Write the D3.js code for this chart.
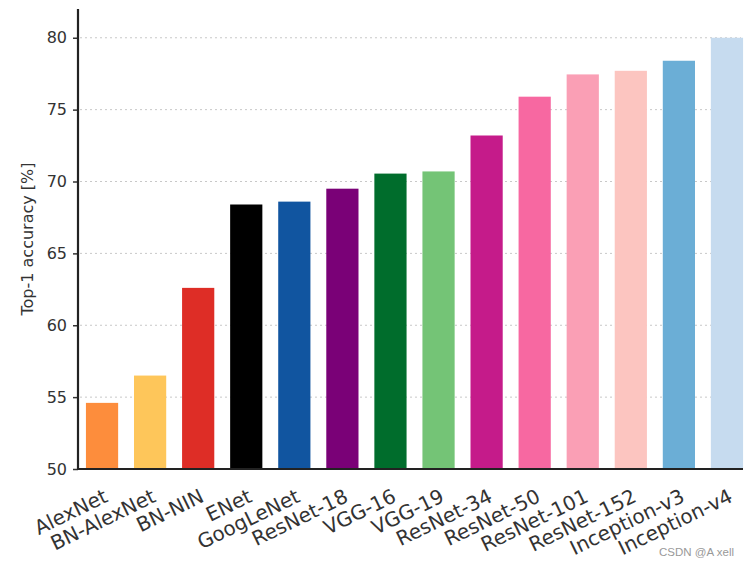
<!DOCTYPE html>
<html>
<head>
<meta charset="utf-8">
<script src="https://cdn.jsdelivr.net/npm/d3@7"></script>
<style>
  body { margin: 0; background: #fff; }
  text { font-family: "DejaVu Sans", sans-serif; }
</style>
</head>
<body>
<svg id="chart" width="748" height="566"></svg>
<script>
'use strict';

// models, in plotted order
const models = ['AlexNet', 'BN-AlexNet', 'BN-NIN', 'ENet', 'GoogLeNet', 'ResNet-18',
  'VGG-16', 'VGG-19', 'ResNet-34', 'ResNet-50', 'ResNet-101', 'ResNet-152',
  'Inception-v3', 'Inception-v4'];

// top-1 accuracy [%]
const accuracy = [54.6, 56.5, 62.6, 68.4, 68.6, 69.5, 70.55, 70.7, 73.2, 75.9, 77.45, 77.7, 78.4, 80.0];

const barColors = ['#fd8d3c', '#fec65a', '#de2d26', '#000000', '#1155a0', '#7a0177',
  '#006d2c', '#74c476', '#c51b8a', '#f768a1', '#fa9fb5', '#fcc5c0', '#6baed6', '#c6dbef'];

const yTicks = [50, 55, 60, 65, 70, 75, 80];

const svg = d3.select('#chart');

const plot = {left: 78, right: 751, top: 9, bottom: 469};

const x = d3.scaleBand()
  .domain(models)
  .range([plot.left, plot.right])
  .paddingInner(0.33)
  .paddingOuter(0.165);

const y = d3.scaleLinear()
  .domain([50, 82])
  .range([plot.bottom, plot.top]);

// dotted grid
svg.append('g')
  .selectAll('line')
  .data(yTicks.filter(t => t > 50))
  .join('line')
  .attr('x1', plot.left + 2)
  .attr('x2', 741)
  .attr('y1', d => y(d))
  .attr('y2', d => y(d))
  .attr('stroke', '#c8c8c8')
  .attr('stroke-width', 1)
  .attr('stroke-dasharray', '2,3');

// bars
svg.append('g')
  .selectAll('rect')
  .data(models)
  .join('rect')
  .attr('x', d => x(d))
  .attr('width', x.bandwidth())
  .attr('y', (d, i) => y(accuracy[i]))
  .attr('height', (d, i) => y(50) - y(accuracy[i]))
  .attr('fill', (d, i) => barColors[i]);

// y axis
const yAxis = svg.append('g')
  .attr('transform', `translate(${plot.left},0)`)
  .call(d3.axisLeft(y).tickValues(yTicks).tickSize(5).tickPadding(6));
yAxis.select('.domain').remove();
yAxis.selectAll('.tick line').attr('stroke', '#333').attr('stroke-width', 1.5);
yAxis.selectAll('.tick text')
  .attr('fill', '#333')
  .style('font-size', '16px');

// spines
svg.append('line')
  .attr('x1', plot.left).attr('x2', plot.left)
  .attr('y1', plot.top).attr('y2', plot.bottom + 1)
  .attr('stroke', '#222').attr('stroke-width', 2.2);
svg.append('line')
  .attr('x1', plot.left - 1).attr('x2', 743)
  .attr('y1', plot.bottom).attr('y2', plot.bottom)
  .attr('stroke', '#222').attr('stroke-width', 2.2);

// x tick labels, rotated
svg.append('g')
  .selectAll('text')
  .data(models)
  .join('text')
  .attr('transform', d => `translate(${x(d) + x.bandwidth() / 2 + 7},${plot.bottom + 32}) rotate(-26)`)
  .attr('text-anchor', 'end')
  .attr('fill', '#333')
  .style('font-size', '20px')
  .text(d => d);

// y axis title
svg.append('text')
  .attr('transform', `translate(33,${(plot.top + plot.bottom) / 2}) rotate(-90)`)
  .attr('text-anchor', 'middle')
  .attr('fill', '#333')
  .style('font-size', '16px')
  .text('Top-1 accuracy [%]');

// watermark
svg.append('text')
  .attr('x', 734)
  .attr('y', 556)
  .attr('text-anchor', 'end')
  .attr('fill', '#999')
  .style('font-family', 'Arial, "Liberation Sans", sans-serif')
  .style('font-size', '11.5px')
  .text('CSDN @A xell');
</script>
</body>
</html>
